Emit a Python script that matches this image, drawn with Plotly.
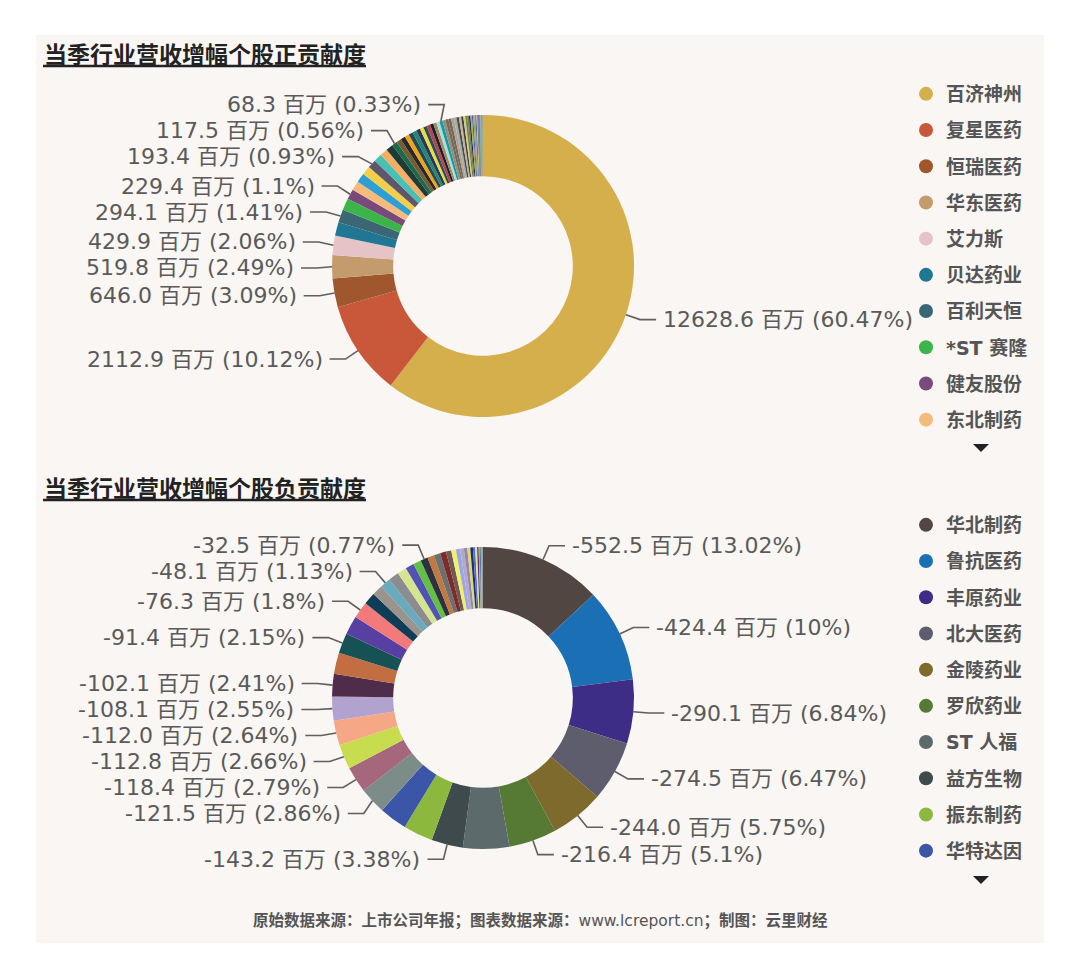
import math

import plotly.graph_objects as go

# target picture is 1080x978; the page body keeps an 8px margin round the figure
OFF = 8
W, H = 1080 - 2 * OFF, 978 - 2 * OFF

TOP_TITLE = "当季行业营收增幅个股正贡献度"
BOTTOM_TITLE = "当季行业营收增幅个股负贡献度"
FOOTER = "<b>原始数据来源：上市公司年报；图表数据来源：</b>www.lcreport.cn<b>；制图：云里财经</b>"
UNIT = "百万"

# positive contributions (百万), descending; only the first ten names are visible in the legend
top_shown = ["百济神州", "复星医药", "恒瑞医药", "华东医药", "艾力斯",
             "贝达药业", "百利天恒", "*ST 赛隆", "健友股份", "东北制药"]
top_values = [
    12628.6, 2112.9, 646.0, 519.8, 429.9, 302.8, 294.1, 261.1, 229.4, 208.8,
    204.7, 198.4, 193.4, 183.8, 171.2, 158.7, 117.5, 110.7, 104.4, 100.2,
    96.1, 91.9, 87.7, 83.5, 79.4, 77.3, 75.2, 73.1, 71.0, 68.3,
    66.8, 65.0, 63.2, 61.5, 58.0, 54.5, 51.0, 47.5, 44.0, 41.0,
    38.0, 35.0, 32.0, 29.0, 26.5, 24.0, 21.5, 20.0, 19.0, 17.0,
    15.0, 13.0, 11.5, 10.0, 8.5, 7.0, 6.0, 5.0, 4.0, 3.2,
    2.5, 1.8, 1.2, 0.8, 0.4,
]
top_names = top_shown + [f"其他个股{i + 1}" for i in range(len(top_shown), len(top_values))]
top_labeled = [0, 1, 2, 3, 4, 6, 8, 12, 16, 29]

# negative contributions (百万)
bottom_shown = ["华北制药", "鲁抗医药", "丰原药业", "北大医药", "金陵药业",
                "罗欣药业", "ST 人福", "益方生物", "振东制药", "华特达因"]
bottom_values = [
    -552.5, -424.4, -290.1, -274.5, -244.0, -216.4, -210.0, -143.2, -134.5, -126.0,
    -121.5, -118.4, -112.8, -112.0, -108.1, -102.1, -97.0, -91.4, -85.0, -76.3,
    -54.3, -48.8, -48.1, -46.7, -42.4, -39.0, -36.1, -32.5,
    -31.0, -29.0, -27.0, -24.0, -21.2, -19.1, -17.0, -15.3, -13.6, -11.9,
    -10.2, -8.5, -6.8, -5.5, -4.2, -3.4, -2.5, -1.7, -1.3, -0.8, -0.4,
]
bottom_names = bottom_shown + [f"其他个股{i + 1}" for i in range(len(bottom_shown), len(bottom_values))]
bottom_labeled = [0, 1, 2, 3, 4, 5, 7, 10, 11, 12, 13, 14, 15, 17, 19, 22, 27]

TOP_COLORS = [
    "#d4af4b", "#c9573a", "#a0572e", "#c49b6d", "#e6c3c6", "#1f7793", "#3b6674", "#3bb54a",
    "#7b4a7c", "#f5bb7c", "#2d9fd4", "#f2cf4a", "#5e566b", "#48c1b4", "#f6ae64", "#1f3b36",
    "#1a6b4e", "#7a5c32", "#262a2a", "#f4a01c", "#1c4f4c", "#2a8177", "#27385c", "#e8de3c",
    "#314a58", "#b24552", "#1c1f2e", "#a58a5c", "#a9dfe0", "#1a9a98", "#8f8f8f", "#7d6b3c",
    "#6d6478", "#b9a27a", "#9ab0b8", "#4b4b4b", "#c8b48a", "#3d3d55", "#d8d070", "#7a7a4a",
    "#5a8a5a", "#2e2e2e", "#c0a060", "#4466aa", "#88aa44", "#aa88cc", "#335577", "#e0c080",
    "#556b2f", "#6a5acd", "#8b4513", "#20b2aa", "#778899", "#bdb76b", "#483d8b", "#cd853f",
    "#2f4f4f", "#9acd32", "#4169e1", "#daa520", "#708090", "#b8860b", "#5f9ea0", "#696969",
    "#3050a0",
]
BOTTOM_COLORS = [
    "#524642", "#1a6fb5", "#3e2d86", "#5e5d6e", "#7d6a2c", "#567a33", "#5d6a6c", "#3e4a4c",
    "#8db83e", "#3b55a8", "#7b8c89", "#a6667b", "#c8dc50", "#f6a886", "#b2a2d0", "#4f2d4a",
    "#c26e42", "#165253", "#5840a2", "#f27a7a", "#0f3c57", "#9b938c", "#6aaabf", "#8c8c90",
    "#d5e58f", "#5252b4", "#62c043", "#2f3040", "#c2793f", "#6b7070", "#812a2a", "#6f5a54",
    "#f2ee6e", "#9aa8e6", "#b6a6d6", "#958aa6", "#dcdc62", "#1f2a80", "#5070c8", "#e8e0a0",
    "#603060", "#a0a0a0", "#3060a0", "#d0d040", "#806040", "#40a080", "#202020", "#c0c0e0",
    "#f0e070",
]

LABEL_FONT = dict(family="DejaVu Sans, Noto Sans CJK SC", size=22, color="#5a5a5a")
LINE_COLOR = "#5f5f5f"
R = 151          # outer radius, px
HOLE = 0.595
LEN1, LEN2, MIN_GAP = 15, 16, 26


def px(x):
    return (x - OFF) / W


def py(y):
    return 1 - (y - OFF) / H


def layout_labels(values, labeled, cx, cy, r):
    """ECharts-like outside labels: radial stub, horizontal arm, overlap relaxation per side."""
    mags = [abs(v) for v in values]
    total = sum(mags)
    cum = 0.0
    items = []
    for i, (v, m) in enumerate(zip(values, mags)):
        mid = (cum + m / 2) / total * 2 * math.pi
        cum += m
        if i not in labeled:
            continue
        sx, sy = math.sin(mid), -math.cos(mid)
        pct = f"{m / total * 100:.2f}".rstrip("0").rstrip(".")
        items.append(dict(
            text=f"{v:.1f} {UNIT} ({pct}%)",
            side=1 if sx >= 0 else -1,
            p0=(cx + r * sx, cy + r * sy),
            y=cy + (r + LEN1) * sy,
        ))
    rr = r + LEN1
    for side in (1, -1):
        group = sorted([it for it in items if it["side"] == side], key=lambda it: it["y"])
        for _ in range(400):
            moved = False
            for a, b in zip(group, group[1:]):
                gap = b["y"] - a["y"]
                if gap < MIN_GAP - 0.01:
                    d = (MIN_GAP - gap) / 2
                    a["y"] -= d
                    b["y"] += d
                    moved = True
            if not moved:
                break
        for it in group:
            dy = it["y"] - cy
            dx = math.sqrt(max(rr * rr - dy * dy, 0.0))
            it["x"] = cx + side * dx
    return items


def pie_trace(values, names, colors, cx, cy):
    return go.Pie(
        values=[abs(v) for v in values],
        labels=names,
        customdata=values,
        sort=False,
        direction="clockwise",
        rotation=0,
        hole=HOLE,
        textinfo="none",
        showlegend=False,
        marker=dict(colors=[colors[i % len(colors)] for i in range(len(values))], line=dict(width=0)),
        domain=dict(x=[px(cx - R), px(cx + R)], y=[py(cy + R), py(cy - R)]),
        hovertemplate="%{label}<br>%{customdata:.1f} 百万 (%{percent})<extra></extra>",
    )


fig = go.Figure()

charts = [
    (top_values, top_names, top_labeled, TOP_COLORS, 483, 266, "legend", 448),
    (bottom_values, bottom_names, bottom_labeled, BOTTOM_COLORS, 483, 698, "legend2", 880),
]

shapes = [dict(type="rect", xref="paper", yref="paper", x0=px(36), x1=px(1044),
               y0=py(943), y1=py(35), fillcolor="#f9f6f3", line=dict(width=0), layer="below")]
annotations = []

for values, names, labeled, colors, cx, cy, legend_id, arrow_y in charts:
    fig.add_trace(pie_trace(values, names, colors, cx, cy))
    for i, name in enumerate(names[:10]):
        fig.add_trace(go.Scatter(
            x=[None], y=[None], mode="markers", name=name,
            marker=dict(size=14, color=colors[i]),
            legend=legend_id, legendgroup=name, hoverinfo="skip",
        ))
    for it in layout_labels(values, labeled, cx, cy, R):
        side = it["side"]
        x2 = it["x"] + side * LEN2
        shapes.append(dict(
            type="path", xref="paper", yref="paper",
            path=f"M {px(it['p0'][0])},{py(it['p0'][1])} L {px(it['x'])},{py(it['y'])} L {px(x2)},{py(it['y'])}",
            line=dict(color=LINE_COLOR, width=1.6),
        ))
        annotations.append(dict(
            xref="paper", yref="paper", x=px(x2 + side * 5), y=py(it["y"]),
            xanchor="left" if side > 0 else "right", yanchor="middle",
            text=it["text"], showarrow=False, font=LABEL_FONT,
        ))
    # legend page-down arrow
    shapes.append(dict(
        type="path", xref="paper", yref="paper",
        path=f"M {px(973)},{py(arrow_y - 4)} L {px(989)},{py(arrow_y - 4)} L {px(981)},{py(arrow_y + 4)} Z",
        fillcolor="#222222", line=dict(width=0),
    ))

title_font = dict(family="Noto Sans CJK SC", size=23, color="#222222")
for text, y in [(TOP_TITLE, 53), (BOTTOM_TITLE, 487)]:
    annotations.append(dict(xref="paper", yref="paper", x=px(42), y=py(y), xanchor="left",
                            yanchor="middle", text=f"<b>{text}</b>", showarrow=False,
                            font=title_font))
    # heavy underline under the section title
    shapes.append(dict(type="line", xref="paper", yref="paper",
                       x0=px(43), x1=px(366), y0=py(y + 13), y1=py(y + 13),
                       line=dict(color="#222222", width=2.5)))

annotations.append(dict(xref="paper", yref="paper", x=px(540), y=py(920), xanchor="center",
                        yanchor="middle", text=FOOTER, showarrow=False,
                        font=dict(family="DejaVu Sans, Noto Sans CJK SC", size=15.5, color="#555555")))

legend_style = dict(
    xanchor="left", yanchor="top", bgcolor="rgba(0,0,0,0)",
    font=dict(family="DejaVu Sans, Noto Sans CJK SC", size=19, color="#555555", weight="bold"),
    tracegroupgap=8.5, itemclick=False, itemdoubleclick=False,
)

fig.update_layout(
    width=W, height=H,
    margin=dict(l=0, r=0, t=0, b=0),
    paper_bgcolor="white", plot_bgcolor="rgba(0,0,0,0)",
    xaxis=dict(visible=False), yaxis=dict(visible=False),
    legend=dict(x=px(906), y=py(75), **legend_style),
    legend2=dict(x=px(906), y=py(506), **legend_style),
    shapes=shapes, annotations=annotations,
)

fig.write_html("out.html")
